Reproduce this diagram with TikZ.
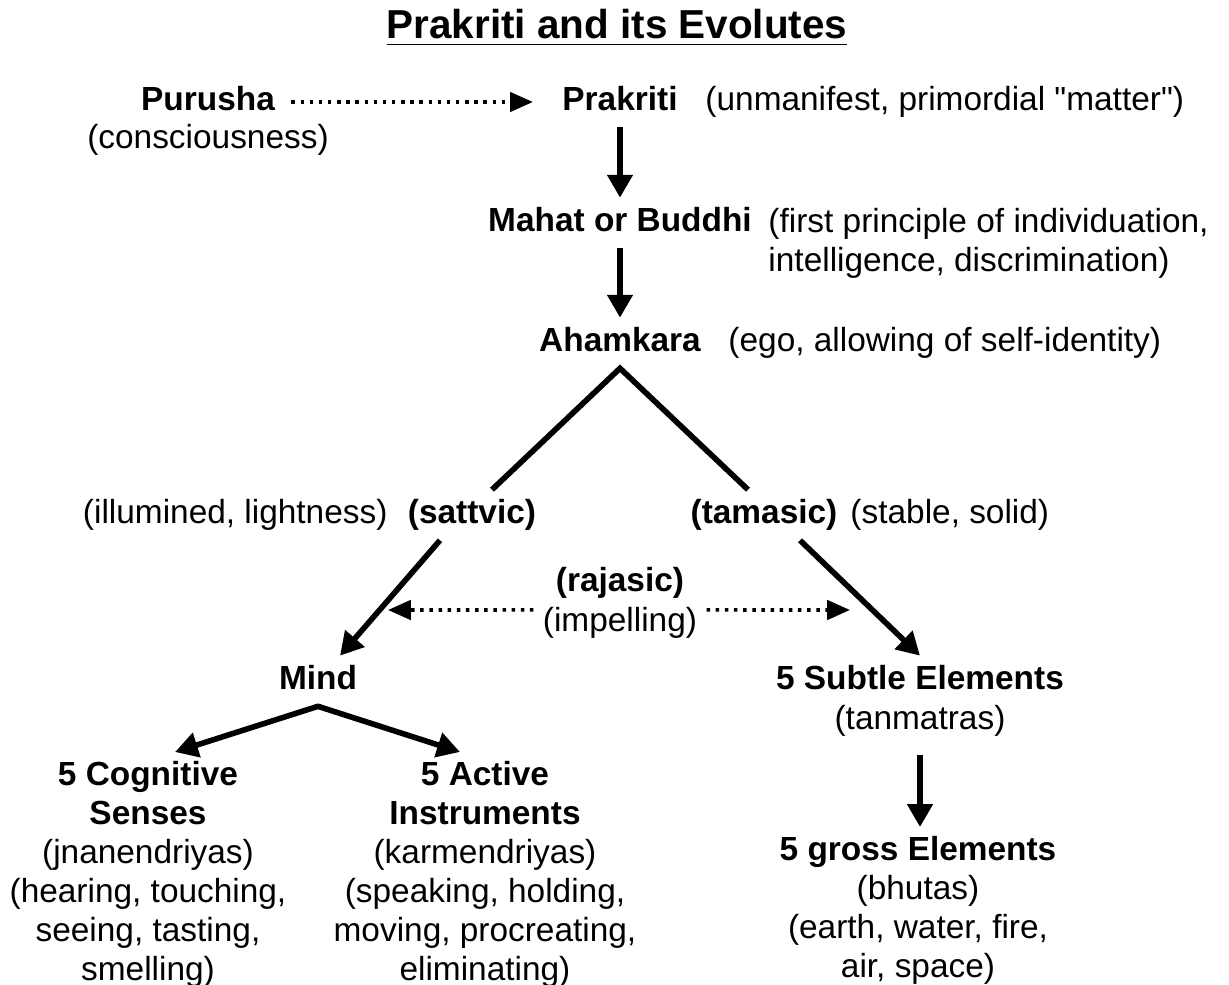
\documentclass[tikz,border=0pt]{standalone}
\usepackage{fontspec}
\setmainfont{Liberation Sans}[Ligatures=TeXOff]
\usetikzlibrary{arrows.meta}

\begin{document}
\begin{tikzpicture}[x=0.01cm, y=-0.01cm,
    font=\fontsize{9.5}{11.1}\selectfont,
    every node/.style={inner sep=2.5pt},
    head/.style={font=\fontsize{9.5}{11.1}\selectfont\bfseries,
                 text height=7pt, text depth=2pt},
    note/.style={text height=7pt, text depth=2pt},
    block/.style={align=center, anchor=north},
    flow/.style={-{Triangle[length=6.5pt, width=7pt]}, line width=1.6pt},
    fork/.style={{Triangle[length=6.5pt, width=7pt]}-{Triangle[length=6.5pt, width=7pt]},
                 line width=1.6pt, line join=round},
    branch/.style={line width=1.6pt, line join=miter},
    link/.style={-{Triangle[length=6.5pt, width=5.5pt]}, line width=1pt,
                 dash pattern=on 1pt off 1.6pt},
]
\useasboundingbox (0,0) rectangle (1229,985);

% ================= title =================
\node[font=\fontsize{11.5}{13}\selectfont\bfseries] (title) at (617,28)
    {\underline{Prakriti and its Evolutes}};

% ================= upper chain =================
\node[head] (purusha) at (208,102) {Purusha};
\node[note] (purushaNote) at (208,140) {(consciousness)};
\node[head] (prakriti) at (620,102) {Prakriti};
\node[note, anchor=west] (prakritiNote) at (696,102)
    {(unmanifest, primordial "matter")};

\node[head] (mahat) at (620,223) {Mahat or Buddhi};
\node[align=left, anchor=north west] (mahatNote) at (759,199)
    {(first principle of individuation,\\intelligence, discrimination)};

\node[head] (ahamkara) at (620,343) {Ahamkara};
\node[note, anchor=west] (ahamkaraNote) at (719,343) {(ego, allowing of self-identity)};

\draw[link, shorten <=2pt, shorten >=5.7pt] (purusha) -- (prakriti);
\draw[flow] (prakriti) -- (mahat);
\draw[flow] (mahat) -- (ahamkara);

% ================= gunas =================
\node[head] (sattvic) at (472,515) {(sattvic)};
\node[note, anchor=east] (sattvicNote) at (397,515) {(illumined, lightness)};
\node[head] (tamasic) at (764,515) {(tamasic)};
\node[note, anchor=west] (tamasicNote) at (841,515) {(stable, solid)};
\node[head] (rajasic) at (620,583) {(rajasic)};
\node[note] (rajasicNote) at (620,623) {(impelling)};

\coordinate (rajasL) at (388,610);
\coordinate (rajasR) at (850,610);

\draw[branch] ([xshift=0.2cm]sattvic.north) -- (ahamkara.south)
    -- ([xshift=-0.16cm]tamasic.north);
\draw[link] ([yshift=0.13cm]rajasicNote.west) -- (rajasL);
\draw[link] ([yshift=0.13cm]rajasicNote.east) -- (rajasR);

% ================= evolutes =================
\node[head] (mind) at (318,681) {Mind};
\node[head] (subtle) at (920,681) {5 Subtle Elements};
\node[note] (subtleNote) at (920,721) {(tanmatras)};

\draw[flow] ([xshift=-0.32cm]sattvic.south) -- ([xshift=0.22cm]mind.north);
\draw[flow] ([xshift=0.36cm]tamasic.south) -- (subtle.north);

\node[block] (cognitive) at (148,752)
    {\textbf{5 Cognitive}\\\textbf{Senses}\\(jnanendriyas)\\(hearing, touching,\\seeing, tasting,\\smelling)};
\node[block] (active) at (485,752)
    {\textbf{5 Active}\\\textbf{Instruments}\\(karmendriyas)\\(speaking, holding,\\moving, procreating,\\eliminating)};
\node[block] (gross) at (918,827)
    {\textbf{5 gross Elements}\\(bhutas)\\(earth, water, fire,\\air, space)};

\draw[fork] ([xshift=0.27cm]cognitive.north) -- (mind.south)
    -- ([xshift=-0.25cm]active.north);
\draw[flow, shorten <=2.5pt] (subtleNote.south) -- ([xshift=0.02cm]gross.north);

\end{tikzpicture}
\end{document}
